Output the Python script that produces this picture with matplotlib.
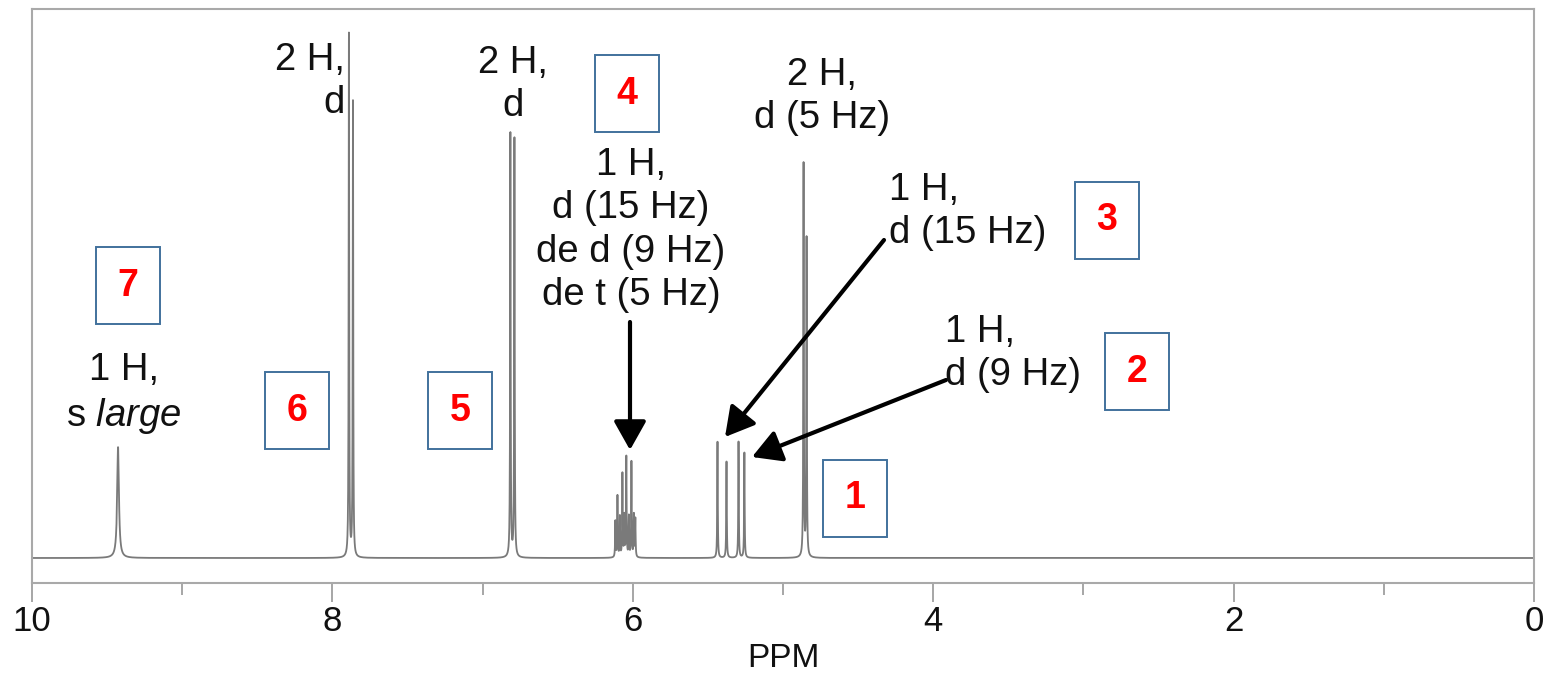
import numpy as np
import matplotlib.pyplot as plt
from matplotlib.patches import Rectangle

# peak list
peak_ppm = [9.427, 7.890, 7.863, 6.815, 6.788,
            6.116, 6.102, 6.086, 6.069, 6.056, 6.043, 6.026, 6.009, 5.993, 5.983,
            5.436, 5.376, 5.296, 5.257, 4.863, 4.843]
peak_height = [0.212, 1.0, 0.87, 0.81, 0.80,
               0.069, 0.117, 0.077, 0.159, 0.077, 0.191, 0.077, 0.182, 0.080, 0.073,
               0.222, 0.184, 0.222, 0.201, 0.751, 0.608]
peak_width = [0.007, 0.002, 0.002, 0.002, 0.002,
              0.002, 0.002, 0.002, 0.002, 0.002, 0.002, 0.002, 0.002, 0.002, 0.002,
              0.002, 0.002, 0.002, 0.002, 0.002, 0.002]

major_ticks = [10, 8, 6, 4, 2, 0]
minor_ticks = [9, 7, 5, 3, 1]

W, H = 1547, 673
plt.rcParams['font.family'] = 'Liberation Sans'
plt.rcParams['mathtext.fontset'] = 'custom'
plt.rcParams['mathtext.rm'] = 'Liberation Sans'
plt.rcParams['mathtext.it'] = 'Liberation Sans:italic'

# spectrum = sum of lorentzian lines
ppm = np.linspace(0, 10, 100001)
signal = np.zeros_like(ppm)
for p, h, g in zip(peak_ppm, peak_height, peak_width):
    signal += h * g ** 2 / ((ppm - p) ** 2 + g ** 2)

fig = plt.figure(figsize=(W / 100, H / 100), dpi=100)
ax = fig.add_axes([32 / W, 1 - 583 / H, (1534 - 32) / W, (583 - 9) / H])
ax.plot(ppm, signal, color='#7a7a7a', lw=1.3)

ax.set_xlim(10, 0)
ax.set_ylim(-25 / 523, 549 / 523)
ax.set_yticks([])
ax.set_xticks(major_ticks)
ax.set_xticks(minor_ticks, minor=True)
ax.tick_params(axis='x', which='major', direction='out', length=13.7, width=1.4,
               color='#a6a6a6', labelsize=25, pad=2, labelcolor='#111111')
ax.tick_params(axis='x', which='minor', direction='out', length=8.6, width=1.4,
               color='#a6a6a6')
for s in ax.spines.values():
    s.set_color('#a9a9a9')
    s.set_linewidth(1.5)
ax.set_xlabel('PPM', fontsize=24, labelpad=4, color='#111111')


def fxy(x, y):
    # pixel position (from top-left) -> figure fraction
    return x / W, 1 - y / H


# y is the baseline of the last line
txt = dict(fontsize=27.5, color='#111111', linespacing=1.26, va='baseline')
fig.text(*fxy(345, 113), '2 H,\nd', ha='right', multialignment='right', **txt)
fig.text(*fxy(513, 116), '2 H,\nd', ha='center', multialignment='center', **txt)
fig.text(*fxy(822, 128), '2 H,\nd (5 Hz)', ha='center', multialignment='center', **txt)
fig.text(*fxy(631, 305), '1 H,\nd (15 Hz)\nde d (9 Hz)\nde t (5 Hz)',
         ha='center', multialignment='center', **txt)
fig.text(*fxy(889, 243), '1 H,\nd (15 Hz)', ha='left', multialignment='left', **txt)
fig.text(*fxy(945, 385), '1 H,\nd (9 Hz)', ha='left', multialignment='left', **txt)
fig.text(*fxy(124, 426), '1 H,\ns $large$', ha='center', multialignment='center', **txt)

arrow = dict(arrowstyle='-|>,head_length=0.8,head_width=0.45', lw=3, color='black',
             mutation_scale=22, shrinkA=0, shrinkB=0)
for tail, tip in [((630, 322), (630, 450)), ((884, 240), (725, 437)), ((946, 380), (752, 457))]:
    ax.annotate('', xy=fxy(*tip), xycoords='figure fraction',
                xytext=fxy(*tail), textcoords='figure fraction', arrowprops=arrow)

# numbered boxes
boxes = [('1', 823, 460), ('2', 1105, 333), ('3', 1075, 182), ('4', 595, 55),
         ('5', 428, 372), ('6', 265, 372), ('7', 96, 247)]
bw, bh = 64, 77
for label, x0, y0 in boxes:
    fig.add_artist(Rectangle(fxy(x0, y0 + bh), bw / W, bh / H, transform=fig.transFigure,
                             fill=False, ec='#41719c', lw=1.4))
    fig.text(*fxy(x0 + bw / 2, y0 + bh / 2), label, ha='center', va='center',
             fontsize=27, fontweight='bold', color='#ff0000')

fig.savefig('out.png', dpi=100)
